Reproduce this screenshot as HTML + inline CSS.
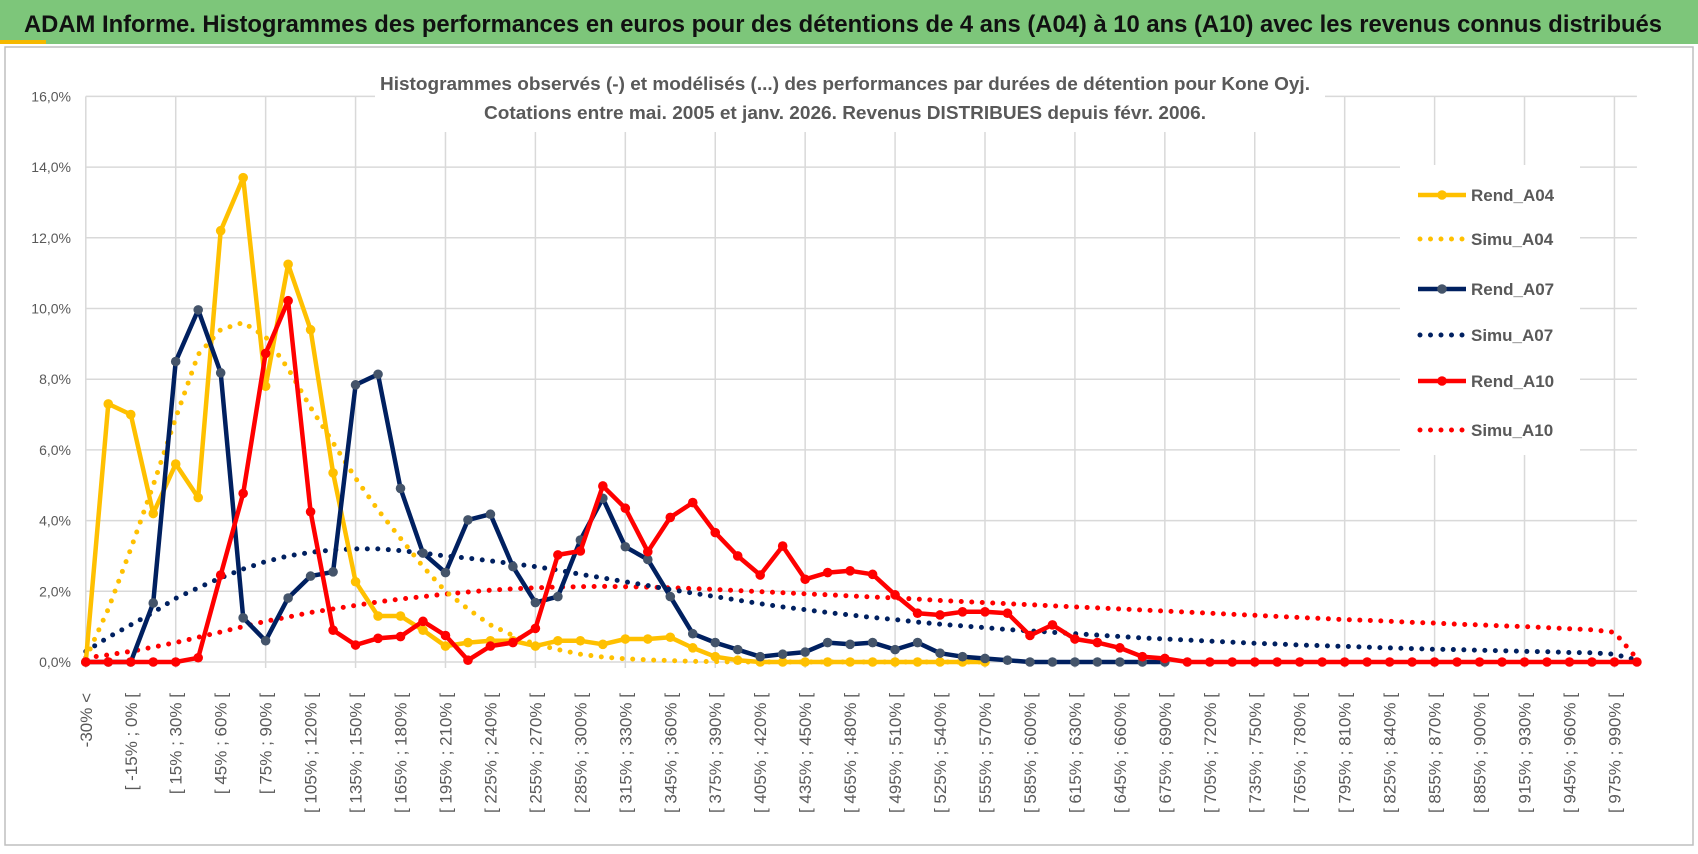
<!DOCTYPE html>
<html><head><meta charset="utf-8"><style>
html,body{margin:0;padding:0;background:#fff;}
svg{display:block;font-family:"Liberation Sans",sans-serif;}
</style></head><body>
<svg id="chart" width="1698" height="854" viewBox="0 0 1698 854" xmlns="http://www.w3.org/2000/svg">
<rect x="0" y="0" width="1698" height="854" fill="#fff"/>
<rect x="0" y="0" width="1698" height="44" fill="#7DC67A"/>
<rect x="0" y="40" width="46" height="4" fill="#F5B800"/>
<text x="24" y="32" font-size="24" font-weight="bold" fill="#111" textLength="1638" lengthAdjust="spacingAndGlyphs">ADAM Informe. Histogrammes des performances en euros pour des détentions de 4 ans (A04) à 10 ans (A10) avec les revenus connus distribués</text>
<rect x="5" y="47" width="1688" height="798" fill="#fff" stroke="#BFBFBF" stroke-width="1.5"/>
<g id="grid"></g>
<rect x="375" y="62" width="950" height="70" fill="#fff"/>
<text x="845" y="90" text-anchor="middle" font-size="18" font-weight="bold" fill="#595959" textLength="930" lengthAdjust="spacingAndGlyphs">Histogrammes observés (-) et modélisés (...) des performances par durées de détention pour Kone Oyj.</text>
<text x="845" y="119" text-anchor="middle" font-size="18" font-weight="bold" fill="#595959" textLength="722" lengthAdjust="spacingAndGlyphs">Cotations entre mai. 2005 et janv. 2026. Revenus DISTRIBUES depuis févr. 2006.</text>
<g id="yaxis"></g>
<g id="xaxis"></g>
<g id="series"></g>
<g id="legend"></g>
</svg>
<script>
const categories = (function(){const c=["-30% <"];for(let i=1;i<70;i++){const a=-30+15*(i-1);c.push("[ "+a+"% ; "+(a+15)+"% [");}return c;})();
const yTicks = [0,2,4,6,8,10,12,14,16];
const yTickLabels = ["0,0%","2,0%","4,0%","6,0%","8,0%","10,0%","12,0%","14,0%","16,0%"];
const rendA04 = [0,7.3,7.0,4.2,5.6,4.65,12.2,13.7,7.8,11.25,9.4,5.35,2.27,1.3,1.3,0.9,0.45,0.55,0.6,0.6,0.45,0.6,0.6,0.5,0.65,0.65,0.7,0.4,0.15,0.05,0,0,0,0,0,0,0,0,0,0,0];
const simuA04 = [0.1,1.5,3.2,5.0,6.9,8.7,9.4,9.6,9.2,8.3,7.2,6.2,5.2,4.3,3.5,2.7,2.0,1.5,1.05,0.75,0.5,0.35,0.22,0.14,0.09,0.06,0.04,0.02,0.01,0,0,0,0,0,0,0,0,0,0,0,0];
const rendA07 = [0,0,0,1.67,8.5,9.96,8.18,1.25,0.6,1.81,2.43,2.55,7.84,8.14,4.91,3.08,2.53,4.02,4.18,2.7,1.68,1.85,3.45,4.63,3.26,2.9,1.85,0.8,0.55,0.35,0.15,0.22,0.28,0.55,0.5,0.55,0.35,0.55,0.25,0.15,0.1,0.05,0,0,0,0,0,0,0];
const simuA07 = [0.3,0.7,1.05,1.4,1.8,2.1,2.38,2.63,2.84,3.0,3.1,3.17,3.2,3.2,3.15,3.08,3.0,2.94,2.86,2.78,2.7,2.6,2.48,2.38,2.27,2.16,2.05,1.95,1.85,1.75,1.65,1.56,1.48,1.4,1.33,1.26,1.2,1.13,1.07,1.02,0.97,0.92,0.88,0.84,0.8,0.76,0.72,0.68,0.65,0.62,0.59,0.56,0.53,0.51,0.48,0.46,0.44,0.42,0.4,0.38,0.36,0.35,0.33,0.32,0.3,0.29,0.27,0.26,0.22,0.05];
const rendA10 = [0,0,0,0,0,0.12,2.46,4.77,8.73,10.22,4.25,0.9,0.48,0.67,0.72,1.15,0.75,0.05,0.45,0.55,0.95,3.03,3.14,4.98,4.35,3.12,4.09,4.51,3.66,3.0,2.46,3.28,2.34,2.53,2.58,2.48,1.9,1.38,1.33,1.42,1.42,1.38,0.75,1.05,0.65,0.55,0.4,0.15,0.1,0,0,0,0,0,0,0,0,0,0,0,0,0,0,0,0,0,0,0,0,0];
const simuA10 = [0.12,0.2,0.3,0.42,0.55,0.7,0.85,1.0,1.15,1.27,1.4,1.5,1.6,1.7,1.78,1.85,1.92,1.98,2.03,2.07,2.1,2.12,2.13,2.14,2.13,2.12,2.1,2.08,2.05,2.02,1.99,1.96,1.93,1.9,1.87,1.84,1.81,1.78,1.74,1.71,1.68,1.65,1.62,1.59,1.56,1.53,1.5,1.47,1.44,1.41,1.38,1.35,1.32,1.29,1.26,1.23,1.2,1.18,1.15,1.12,1.1,1.07,1.05,1.02,1.0,0.97,0.94,0.91,0.84,0.1];
const seriesNames = ["Rend_A04","Simu_A04","Rend_A07","Simu_A07","Rend_A10","Simu_A10"];

const NS="http://www.w3.org/2000/svg";
const X0=85.8, DX=22.48, Y0=662, PY=35.35;
function xPos(i){return X0+DX*i;}
function yPos(v){return Y0-v*PY;}
function mk(tag,parent){const e=document.createElementNS(NS,tag);parent.appendChild(e);return e;}

const grid=document.getElementById('grid');
yTicks.forEach(function(t){
  const l=mk('line',grid);
  
  
  l.setAttribute('x1',X0);l.setAttribute('x2',xPos(69));
  l.setAttribute('y1',yPos(t));l.setAttribute('y2',yPos(t));
  l.setAttribute('stroke','#D9D9D9');l.setAttribute('stroke-width','1.5');
});
for(let i=0;i<=68;i+=4){
  const l=mk('line',grid);
  
  
  l.setAttribute('x1',xPos(i));l.setAttribute('x2',xPos(i));
  l.setAttribute('y1',yPos(16));l.setAttribute('y2',yPos(0)+6);
  l.setAttribute('stroke','#D9D9D9');l.setAttribute('stroke-width','1.5');
}
const ya=document.getElementById('yaxis');
yTicks.forEach(function(t,k){
  const tx=mk('text',ya);
  
  
  tx.setAttribute('x',71);tx.setAttribute('y',yPos(t)+5);
  tx.setAttribute('text-anchor','end');tx.setAttribute('font-size','14');tx.setAttribute('fill','#595959');
  tx.textContent=yTickLabels[k];
});
const xa=document.getElementById('xaxis');
categories.forEach(function(c,i){
  if(i%2) return;
  const tx=mk('text',xa);
  
  
  const x=xPos(i)+6, y=693;
  tx.setAttribute('transform','translate('+x+','+y+') rotate(-90)');
  tx.setAttribute('text-anchor','end');tx.setAttribute('font-size','17');tx.setAttribute('fill','#595959');
  tx.textContent=c;
});

const sg=document.getElementById('series');
function drawLine(data,color,dotted,markerColor,name){
  const g=mk('g',sg);
  
  
  const p=mk('path',g);
  
  
  p.setAttribute('d',data.map(function(v,i){return (i?'L':'M')+xPos(i).toFixed(1)+' '+yPos(v).toFixed(1);}).join(' '));
  p.setAttribute('fill','none');p.setAttribute('stroke',color);
  p.setAttribute('stroke-linejoin','round');
  if(dotted){p.setAttribute('stroke-width','5');p.setAttribute('stroke-linecap','round');p.setAttribute('stroke-dasharray','0 10.5');}
  else{p.setAttribute('stroke-width','4.5');}
  if(markerColor){
    data.forEach(function(v,i){
      const c=mk('circle',g);
      
      
      c.setAttribute('cx',xPos(i));c.setAttribute('cy',yPos(v));c.setAttribute('r','4.8');
      c.setAttribute('fill',markerColor);
    });
  }
}
drawLine(simuA10,'#FF0000',true,null,'simu-a10');
drawLine(simuA07,'#002060',true,null,'simu-a07');
drawLine(simuA04,'#FFC000',true,null,'simu-a04');
drawLine(rendA04,'#FFC000',false,'#FFC000','rend-a04');
drawLine(rendA07,'#002060',false,'#44546A','rend-a07');
drawLine(rendA10,'#FF0000',false,'#FF0000','rend-a10');

const lg=document.getElementById('legend');
const bg=mk('rect',lg);


bg.setAttribute('x',1400);bg.setAttribute('y',165);bg.setAttribute('width',180);bg.setAttribute('height',290);bg.setAttribute('fill','#fff');
const legY=[195,239,289,335,381,430];
const legColors=['#FFC000','#FFC000','#002060','#002060','#FF0000','#FF0000'];
const legMarker=['#FFC000',null,'#44546A',null,'#FF0000',null];
seriesNames.forEach(function(n,k){
  const g=mk('g',lg);
  
  
  const l=mk('line',g);
  
  
  l.setAttribute('x1',1418);l.setAttribute('x2',1466);l.setAttribute('y1',legY[k]);l.setAttribute('y2',legY[k]);
  l.setAttribute('stroke',legColors[k]);
  if(legMarker[k]===null){l.setAttribute('stroke-width','5');l.setAttribute('stroke-linecap','round');l.setAttribute('stroke-dasharray','0 10.5');l.setAttribute('x1',1420);}
  else{l.setAttribute('stroke-width','4.5');
    const c=mk('circle',g);
    
    
    c.setAttribute('cx',1442);c.setAttribute('cy',legY[k]);c.setAttribute('r','4.8');c.setAttribute('fill',legMarker[k]);}
  const t=mk('text',g);
  
  
  t.setAttribute('x',1471);t.setAttribute('y',legY[k]+6);t.setAttribute('font-size','17');t.setAttribute('font-weight','bold');t.setAttribute('fill','#595959');
  t.textContent=n;
});
</script>
</body></html>
